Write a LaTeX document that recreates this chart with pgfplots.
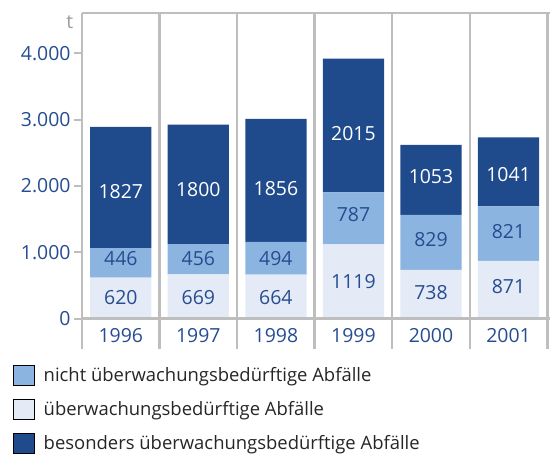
\documentclass[border=0pt]{standalone}
\usepackage{fontspec}
\setmainfont{Open Sans}
\usepackage{pgfplots}
\usepackage{pgfplotstable}
\pgfplotsset{compat=1.18}
\usetikzlibrary{calc}

\definecolor{dunkel}{HTML}{1F4A8C}
\definecolor{mittel}{HTML}{8CB4E0}
\definecolor{hell}{HTML}{E4EAF6}
\definecolor{linie}{HTML}{BEBEBE}
\definecolor{schrift}{HTML}{264D91}
\definecolor{einheit}{HTML}{9A9A9A}

% Abfallmengen in t
\pgfplotstableread{
x  ueb   nicht  bes
1  620   446    1827
2  669   456    1800
3  664   494    1856
4  1119  787    2015
5  738   829    1053
6  871   821    1041
}\abfall

\newcommand{\zahl}{\fontsize{19.5}{22}\selectfont}

\pgfplotsset{basis/.style={
  scale only axis, width=465bp, height=336bp,
  xmin=0.5, xmax=6.5, ymin=-460, ymax=4610,
  clip=false,
}}

\begin{document}
\begin{tikzpicture}
\begin{axis}[basis, name=ax,
  ybar stacked, bar width=0.79,
  axis line style={draw=none},
  xtick={1,...,6},
  xticklabels={1996,1997,1998,1999,2000,2001},
  xtick style={draw=none},
  xticklabel style={anchor=center, yshift=21.4bp, text=schrift, font=\zahl},
  minor xtick={0.5,1.5,...,6.5},
  minor tick length=0pt,
  xminorgrids=true,
  minor x grid style={draw=linie, line width=2.4bp},
  ytick={0,1000,2000,3000,4000},
  ytick pos=left,
  tick align=outside,
  major tick length=8bp,
  ytick style={draw=linie, line width=2bp},
  yticklabel style={text=schrift, font=\zahl},
  /pgf/number format/.cd, 1000 sep={.}, assume math mode=true,
]
\addplot[fill=hell, draw=none] table[x=x, y=ueb] {\abfall};
\addplot[fill=mittel, draw=none] table[x=x, y=nicht] {\abfall};
\addplot[fill=dunkel, draw=none] table[x=x, y=bes] {\abfall};
\end{axis}

\begin{axis}[basis, hide axis,
  legend image code/.code={\fill (0bp,-10bp) rectangle (21bp,10bp);},
  legend cell align=left,
  legend style={draw=none, fill=none, inner sep=0pt, outer sep=0pt,
    at={(rel axis cs:0,0)}, xshift=-69.3bp, yshift=-15.3bp, anchor=north west,
    row sep=13.7bp, font=\fontsize{18.5}{21}\selectfont, text=black!85,
    nodes={inner sep=0pt},
    /tikz/every odd column/.append style={column sep=9.6bp}},
]
\draw[linie, line width=2.4bp] (axis cs:0.5,4610) -- (axis cs:6.53,4610);
\draw[linie, line width=2.4bp] (axis cs:0.5,0) -- (axis cs:6.53,0);
\node[text=einheit, font=\zahl, anchor=center] at (rel axis cs:0,1) [xshift=-12.3bp, yshift=-8.7bp] {t};

\addlegendimage{fill=mittel}
\addlegendentry{nicht überwachungsbedürftige Abfälle}
\addlegendimage{fill=hell}
\addlegendentry{überwachungsbedürftige Abfälle}
\addlegendimage{fill=dunkel}
\addlegendentry{besonders überwachungsbedürftige Abfälle}

% Beschriftung der Segmente
\addplot[draw=none, forget plot, nodes near coords, point meta=explicit symbolic,
  nodes near coords style={anchor=center, inner sep=0pt, text=schrift, font=\zahl}]
  coordinates {(1,323)[620] (2,323)[669] (3,323)[664] (4,558)[1119] (5,398)[738] (6,483)[871]
               (1,911)[446] (2,911)[456] (3,911)[494] (4,1564)[787] (5,1198)[829] (6,1312)[821]};
\addplot[draw=none, forget plot, nodes near coords, point meta=explicit symbolic,
  nodes near coords style={anchor=center, inner sep=0pt, text=white, font=\zahl}]
  coordinates {(1,1915)[1827] (2,1952)[1800] (3,1967)[1856] (4,2796)[2015] (5,2142)[1053] (6,2167)[1041]};
\end{axis}

\pgfresetboundingbox
\path ($(ax.south west)+(-82bp,-104bp)$) rectangle ($(ax.north east)+(2.7bp,13bp)$);
\end{tikzpicture}
\end{document}
